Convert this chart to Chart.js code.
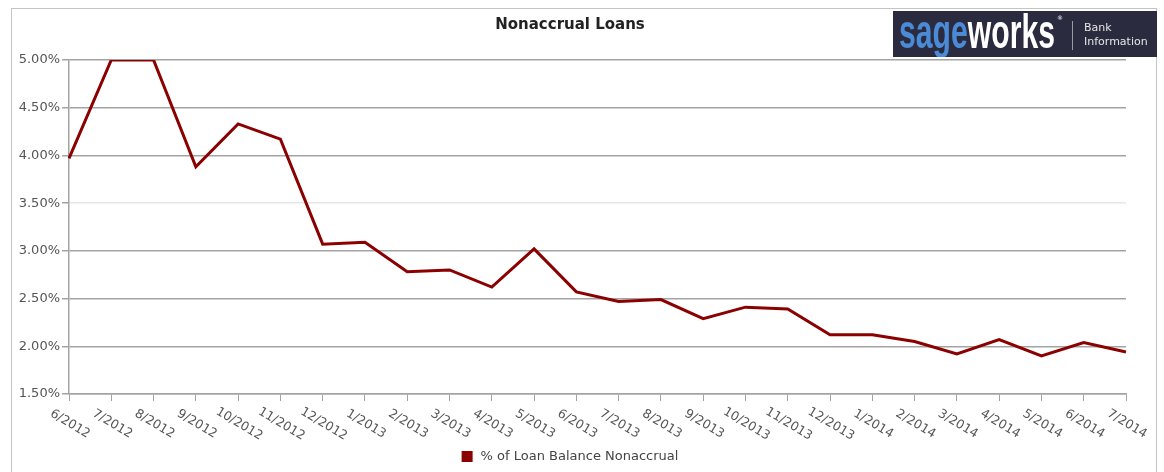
<!DOCTYPE html>
<html><head><meta charset="utf-8">
<script src="https://cdn.jsdelivr.net/npm/chart.js@4/dist/chart.umd.min.js"></script>
<style>html,body{margin:0;padding:0;background:#fff;}#wrap{width:1164px;height:472px;}</style>
</head><body><div id="wrap"><canvas id="c" width="1164" height="472"></canvas></div>
<script>
const categories = ['6/2012','7/2012','8/2012','9/2012','10/2012','11/2012','12/2012','1/2013','2/2013','3/2013','4/2013','5/2013','6/2013','7/2013','8/2013','9/2013','10/2013','11/2013','12/2013','1/2014','2/2014','3/2014','4/2014','5/2014','6/2014','7/2014'];
const nonaccrualPct = [3.97,5.00,5.00,3.88,4.33,4.17,3.07,3.09,2.78,2.80,2.62,3.02,2.57,2.47,2.49,2.29,2.41,2.39,2.12,2.12,2.05,1.92,2.07,1.90,2.04,1.94];
const yTickValues = [1.5,2.0,2.5,3.0,3.5,4.0,4.5,5.0];
const chartTitle = 'Nonaccrual Loans';
const seriesName = '% of Loan Balance Nonaccrual';
const logoParts = ['sage','works'];
const logoCaption = ['Bank','Information'];

const LINE = '#8b0000';
const GRID = '#a3a3a3';

const decor = {
  id: 'decor',
  beforeDraw(chart) {
    const ctx = chart.ctx;
    ctx.save();
    ctx.fillStyle = '#fff';
    ctx.fillRect(0, 0, chart.width, chart.height);
    ctx.strokeStyle = '#c4c4c4';
    ctx.lineWidth = 1;
    ctx.strokeRect(11.5, 8.5, 1145, 520);
    ctx.restore();
  },
  afterDraw(chart) {
    const ctx = chart.ctx;
    const xs = chart.scales.x;
    const area = chart.chartArea;
    ctx.save();
    // title
    ctx.fillStyle = '#222';
    ctx.font = 'bold 15px "DejaVu Sans"';
    ctx.textAlign = 'center';
    ctx.textBaseline = 'middle';
    ctx.fillText(chartTitle, 570, 25);
    // x labels rotated clockwise, centred on tick
    ctx.font = '12.5px "DejaVu Sans"';
    ctx.fillStyle = '#555';
    categories.forEach((lab, i) => {
      const x = xs.getPixelForValue(i);
      ctx.save();
      ctx.translate(x + 1, area.bottom + 30);
      ctx.rotate(31 * Math.PI / 180);
      ctx.textAlign = 'center';
      ctx.textBaseline = 'middle';
      ctx.fillText(lab, 0, 0);
      ctx.restore();
    });
    // legend
    ctx.font = '13px "DejaVu Sans"';
    const tw = ctx.measureText(seriesName).width;
    const total = 11 + 8 + tw;
    const lx = 570 - total / 2;
    ctx.fillStyle = LINE;
    ctx.fillRect(lx, 451, 11, 11);
    ctx.fillStyle = '#444';
    ctx.textAlign = 'left';
    ctx.textBaseline = 'middle';
    ctx.fillText(seriesName, lx + 19, 457);
    // logo
    ctx.fillStyle = '#2b2b3f';
    ctx.fillRect(893, 11, 264, 46);
    ctx.save();
    ctx.beginPath();
    ctx.rect(893, 11, 264, 46);
    ctx.clip();
    ctx.font = 'bold 30px "Liberation Sans"';
    ctx.textAlign = 'left';
    ctx.textBaseline = 'alphabetic';
    const w1 = ctx.measureText(logoParts[0]).width;
    const w2 = ctx.measureText(logoParts[1]).width;
    const sx = 156 / (w1 + w2);
    ctx.translate(899, 48);
    ctx.scale(sx, 1.6);
    ctx.fillStyle = '#4a8ad6';
    ctx.fillText(logoParts[0], 0, 0);
    ctx.fillStyle = '#ffffff';
    ctx.fillText(logoParts[1], w1, 0);
    ctx.restore();
    ctx.fillStyle = '#fff';
    ctx.font = '6px "DejaVu Sans"';
    ctx.fillText('®', 1057, 18);
    ctx.strokeStyle = '#9a9aa8';
    ctx.lineWidth = 1;
    ctx.beginPath();
    ctx.moveTo(1072.5, 21);
    ctx.lineTo(1072.5, 50);
    ctx.stroke();
    ctx.fillStyle = '#e6e6e6';
    ctx.font = '11px "DejaVu Sans"';
    ctx.fillText(logoCaption[0], 1084, 28);
    ctx.fillText(logoCaption[1], 1084, 42);
    ctx.restore();
  }
};

new Chart(document.getElementById('c'), {
  type: 'line',
  data: {
    labels: categories,
    datasets: [{
      label: seriesName,
      data: nonaccrualPct,
      borderColor: LINE,
      backgroundColor: LINE,
      borderWidth: 3,
      pointRadius: 0,
      tension: 0,
      fill: false
    }]
  },
  options: {
    responsive: false,
    animation: false,
    devicePixelRatio: 1,
    layout: { padding: { left: 0, right: 38, top: 60, bottom: 68 } },
    plugins: { legend: { display: false }, title: { display: false }, tooltip: { enabled: false } },
    scales: {
      x: {
        type: 'category',
        offset: false,
        ticks: { display: false },
        grid: { drawOnChartArea: false, drawTicks: true, tickLength: 7, color: GRID },
        border: { display: true, color: GRID, width: 1.5 },
        afterFit(s) { s.height = 10; }
      },
      y: {
        min: 1.5, max: 5.0,
        afterBuildTicks(s) { s.ticks = yTickValues.map(v => ({ value: v })); },
        ticks: {
          padding: 2,
          color: '#555',
          font: { family: '"DejaVu Sans"', size: 13 },
          callback: v => Number(v).toFixed(2) + '%'
        },
        grid: {
          drawTicks: true, tickLength: 7,
          color: ctx => (ctx.tick && Math.abs(ctx.tick.value - 3.5) < 1e-6) ? '#e6e6e6' : GRID,
          tickColor: GRID,
          lineWidth: 1.5
        },
        border: { display: true, color: GRID, width: 1.5 },
        afterFit(s) { s.width = 69; }
      }
    }
  },
  plugins: [decor]
});
</script>
</body></html>
